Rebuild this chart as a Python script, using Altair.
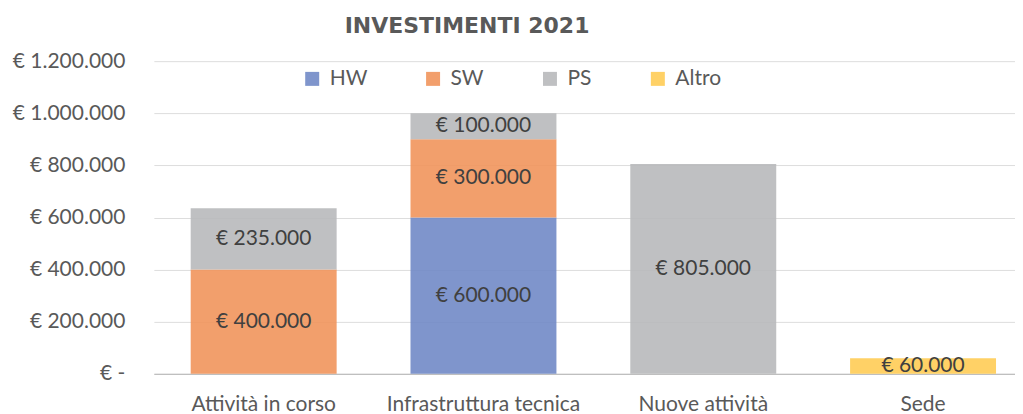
import altair as alt
import pandas as pd

categories = ["Attività in corso", "Infrastruttura tecnica", "Nuove attività", "Sede"]
series = ["HW", "SW", "PS", "Altro"]
hw = [0, 600000, 0, 0]
sw = [400000, 300000, 0, 0]
ps = [235000, 100000, 805000, 0]
altro = [0, 0, 0, 60000]
y_ticks = [0, 200000, 400000, 600000, 800000, 1000000, 1200000]
colors = ["#718AC7", "#F1955C", "#B8B9BB", "#FFCC55"]
title_text = ["INVESTIMENTI 2021"]

rows = []
for si, (name, vals) in enumerate(zip(series, [hw, sw, ps, altro])):
    for cat, v in zip(categories, vals):
        if v > 0:
            rows.append({"cat": cat, "serie": name, "ord": si, "value": v,
                         "label": "€ " + f"{v:,}".replace(",", ".")})
df = pd.DataFrame(rows)

FONT = "Lato"

base = alt.Chart(df).transform_stack(
    stack="value", as_=["y0", "y1"], groupby=["cat"], sort=[alt.SortField("ord", order="ascending")]
).transform_calculate(mid="(datum.y0 + datum.y1) / 2")

x_enc = alt.X(
    "cat:N", sort=categories, title=None,
    scale=alt.Scale(paddingInner=0.336, paddingOuter=0.127, align=0.66),
    axis=alt.Axis(labelAngle=0, ticks=False, tickSize=0, labelPadding=20, labelFontSize=21,
                  labelFont=FONT, labelColor="#595959", domainColor="#BFBFBF", domainWidth=1.2,
                  grid=False, labelLimit=0),
)

bars = base.mark_bar(opacity=0.9).encode(
    x=x_enc,
    y=alt.Y("y0:Q", title=None, scale=alt.Scale(domain=[0, 1200000], nice=False),
            axis=alt.Axis(values=y_ticks, domain=False, ticks=False, tickSize=0, labelPadding=29,
                          labelFontSize=21, labelFont=FONT, labelColor="#595959",
                          gridColor="#DDDDDD", gridWidth=1,
                          labelExpr="datum.value == 0 ? '€ -\u00a0\u00a0\u00a0' : '€ ' + replace(replace(format(datum.value, ',.0f'), ',', '.'), ',', '.')")),
    y2="y1:Q",
    color=alt.Color("serie:N", scale=alt.Scale(domain=series, range=colors),
                    legend=alt.Legend(title=None, orient="none", direction="horizontal",
                                      legendX=148, legendY=7, padding=0, symbolType="square",
                                      symbolSize=196, symbolStrokeWidth=0, symbolOpacity=0.9,
                                      labelFontSize=21, labelFont=FONT, labelColor="#595959",
                                      labelOffset=7, columnPadding=55)),
    order=alt.Order("ord:Q"),
)

texts = base.mark_text(fontSize=21, font=FONT, color="#404040", baseline="middle").encode(
    x=alt.X("cat:N", sort=categories),
    y=alt.Y("mid:Q"),
    text="label:N",
)

title = alt.Chart(pd.DataFrame({"t": title_text})).mark_text(
    font="DejaVu Sans", fontSize=22, fontWeight="bold", color="#595959",
    align="left", baseline="alphabetic"
).encode(x=alt.value(191), y=alt.value(-28), text="t:N")

chart = alt.layer(bars, texts, title).properties(
    width=862, height=313,
    autosize=alt.AutoSizeParams(type="none"),
    padding={"left": 146, "top": 53, "right": 0, "bottom": 40},
).configure_view(stroke=None)

chart.save("out.html", embed_options={"renderer": "svg", "actions": False})
